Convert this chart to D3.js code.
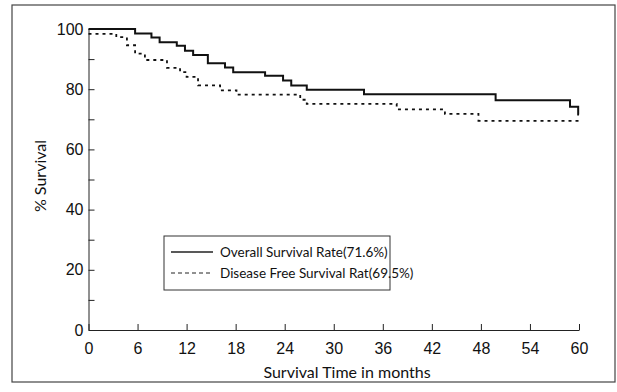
<!DOCTYPE html>
<html>
<head>
<meta charset="utf-8">
<script src="https://cdn.jsdelivr.net/npm/d3@7"></script>
<style>
  html, body { margin: 0; padding: 0; background: #fff; }
  svg { display: block; font-family: Lato, "DejaVu Sans", sans-serif; }
  .axis path, .axis line { stroke: #222; }
  .axis text { fill: #111; font-size: 16px; }
</style>
</head>
<body>
<svg id="chart" width="617" height="392"></svg>
<script>
// step points (months, % surviving)
const overallMonths = [0, 5.7, 7.7, 8.7, 10.8, 11.8, 12.8, 14.6, 16.7, 17.7, 21.6, 23.8, 24.8, 26.7, 33.7, 49.8, 58.9, 59.9, 60];
const overallSurv = [100, 98.5, 97.2, 95.6, 94.4, 92.8, 91.4, 88.6, 87.2, 85.6, 84.5, 82.9, 81.2, 79.8, 78.3, 76.3, 74.2, 71.6, 71.6];
const dfsMonths = [0, 3.4, 4.7, 5.7, 6.9, 9.6, 11.2, 12.0, 13.4, 16.1, 18.1, 25.9, 26.7, 37.7, 43.6, 47.7, 60];
const dfsSurv = [98.4, 97.3, 94.6, 91.8, 89.7, 87.1, 85.7, 84.1, 81.3, 79.6, 78.2, 76.5, 75.1, 73.3, 71.8, 69.5, 69.5];

const xTicks = [0, 6, 12, 18, 24, 30, 36, 42, 48, 54, 60];
const yTicks = [0, 10, 20, 30, 40, 50, 60, 70, 80, 90, 100];
const yLabels = [0, 20, 40, 60, 80, 100];
const legendLabels = ['Overall Survival Rate(71.6%)', 'Disease Free Survival Rat(69.5%)'];

const svg = d3.select('#chart');

// outer frame
svg.append('rect')
  .attr('x', 12).attr('y', 5)
  .attr('width', 603).attr('height', 377)
  .attr('fill', 'none').attr('stroke', '#444').attr('stroke-width', 1.2);

const x = d3.scaleLinear().domain([0, 60]).range([88.5, 579]);
const y = d3.scaleLinear().domain([0, 100]).range([330, 29]);

svg.append('g')
  .attr('class', 'axis')
  .attr('transform', 'translate(0,330)')
  .call(d3.axisBottom(x).tickValues(xTicks).tickSizeInner(-6).tickSizeOuter(0).tickPadding(13))
  .selectAll('text').attr('font-size', 17);

svg.append('g')
  .attr('class', 'axis')
  .attr('transform', 'translate(88.5,0)')
  .call(d3.axisLeft(y).tickValues(yTicks).tickSizeInner(-6).tickSizeOuter(0).tickPadding(5)
    .tickFormat(d => yLabels.includes(d) ? d : ''));

// axis titles
svg.append('text')
  .attr('x', 347).attr('y', 378)
  .attr('text-anchor', 'middle')
  .attr('font-size', 16).attr('fill', '#111')
  .text('Survival Time in months');

svg.append('text')
  .attr('transform', 'translate(46,176) rotate(-90)')
  .attr('text-anchor', 'middle')
  .attr('font-size', 16).attr('fill', '#111')
  .text('% Survival');

const line = d3.line()
  .x(d => x(d[0]))
  .y(d => y(d[1]))
  .curve(d3.curveStepAfter);

svg.append('path')
  .datum(d3.zip(overallMonths, overallSurv))
  .attr('d', line)
  .attr('fill', 'none').attr('stroke', '#111').attr('stroke-width', 2);

svg.append('path')
  .datum(d3.zip(dfsMonths, dfsSurv))
  .attr('d', line)
  .attr('fill', 'none').attr('stroke', '#111').attr('stroke-width', 1.8)
  .attr('stroke-dasharray', '3,4');

// legend
const legend = svg.append('g').attr('transform', 'translate(164,236)');
legend.append('rect')
  .attr('width', 226).attr('height', 54)
  .attr('fill', '#fff').attr('stroke', '#333').attr('stroke-width', 1);

legendLabels.forEach((label, i) => {
  const ly = 16 + i * 21;
  legend.append('line')
    .attr('x1', 7).attr('x2', 49).attr('y1', ly).attr('y2', ly)
    .attr('stroke', '#222').attr('stroke-width', i === 0 ? 1.4 : 1)
    .attr('stroke-dasharray', i === 0 ? null : '4,3');
  legend.append('text')
    .attr('x', 56).attr('y', ly).attr('dy', '0.35em')
    .attr('font-size', 13.5).attr('fill', '#111')
    .text(label);
});
</script>
</body>
</html>
